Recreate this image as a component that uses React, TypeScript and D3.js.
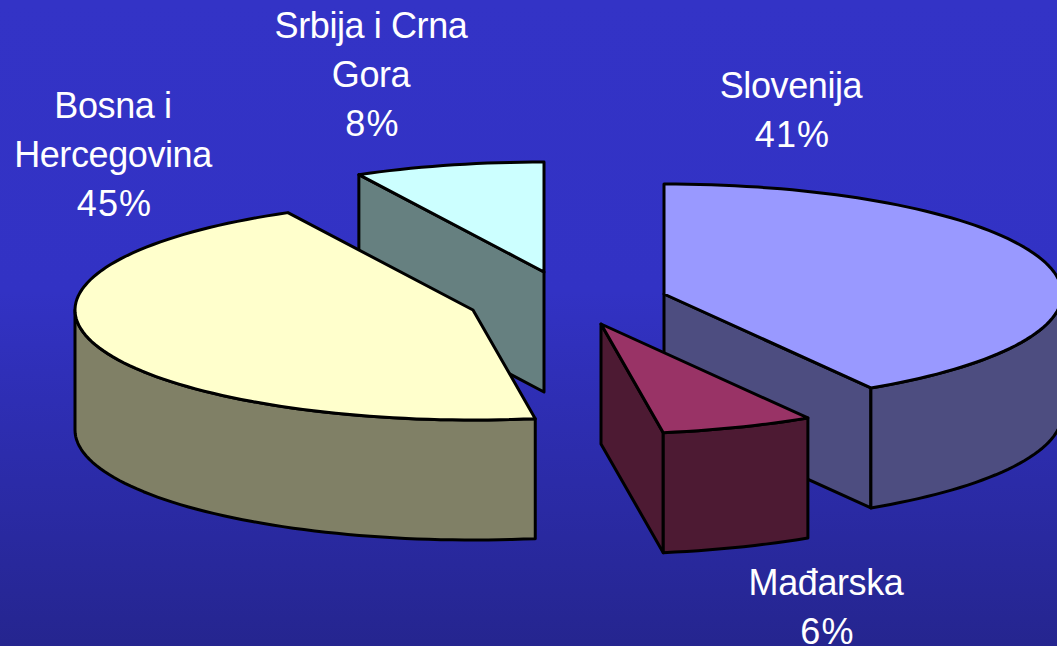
import React, { useLayoutEffect } from "react";
import * as d3 from "d3";

const categories = ["Slovenija", "Mađarska", "Bosna i Hercegovina", "Srbija i Crna Gora"];
const shares = [41.3, 6.2, 44.8, 7.7];
const percentLabels = ["41%", "6%", "45%", "8%"];
const labelLines = [["Slovenija", "41%"], ["Mađarska", "6%"], ["Bosna i", "Hercegovina", "45%"], ["Srbija i Crna", "Gora", "8%"]];
const topColors = ["#9999FF", "#993366", "#FFFFCC", "#CCFFFF"];
const sideColors = ["#4D4D80", "#4D1A33", "#808066", "#668080"];
const centers: [number, number][] = [[664, 294], [601, 324], [473, 310], [544, 272]];
const labelAnchors: [number, number][] = [[791, 97.5], [826, 595], [113, 117.5], [371, 37.5]];

const W = 1057, H = 646, RX = 398, RY = 110, DEPTH = 120;
const line = d3.line();
const pieAngles = d3.pie<number>().sort(null).value((d) => d)(shares);

function rim(cx: number, cy: number, a0: number, a1: number, dy = 0): [number, number][] {
  const n = Math.max(2, Math.ceil((a1 - a0) / 0.03));
  const t = d3.scaleLinear().domain([0, n]).range([a0, a1]);
  return d3.range(n + 1).map((i) => [cx + RX * Math.sin(t(i)), cy + dy - RY * Math.cos(t(i))] as [number, number]);
}

function Slice({ i }: { i: number }) {
  const [cx, cy] = centers[i];
  const { startAngle: a0, endAngle: a1 } = pieAngles[i];
  const top = rim(cx, cy, a0, a1);
  const stroke = { stroke: "#000", strokeWidth: 3, strokeLinejoin: "round" as const };
  const faces: [number, number][][] = [];
  const radialWall = (a: number) => {
    const p: [number, number] = [cx + RX * Math.sin(a), cy - RY * Math.cos(a)];
    return [[cx, cy], p, [p[0], p[1] + DEPTH], [cx, cy + DEPTH]] as [number, number][];
  };
  if (i === 0) faces.push(radialWall(a1));
  if (i === 1) faces.push(radialWall(a1));
  if (i === 3) faces.push(radialWall(a0));
  const frontA0 = Math.max(a0, Math.PI / 2);
  const frontA1 = Math.min(a1, (3 * Math.PI) / 2);
  if (frontA1 > frontA0) {
    const upper = rim(cx, cy, frontA0, frontA1);
    const lower = rim(cx, cy, frontA0, frontA1, DEPTH).reverse();
    faces.push([...upper, ...lower]);
  }
  return (
    <g>
      {faces.map((f, k) => (
        <path key={k} d={line(f) + "Z"} fill={sideColors[i]} {...stroke} />
      ))}
      <path d={line([[cx, cy], ...top]) + "Z"} fill={topColors[i]} {...stroke} />
    </g>
  );
}

export default function App() {
  useLayoutEffect(() => {
    document.body.style.margin = "0";
    document.body.style.overflow = "hidden";
  }, []);
  return (
    <svg width={W} height={H} style={{ display: "block" }} role="img" aria-label={categories.join(", ") + ": " + percentLabels.join(", ")}>
      <defs>
        <linearGradient id="bg" x1="0" y1="0" x2="0" y2="1">
          <stop offset="0" stopColor="#3333C6" />
          <stop offset="0.45" stopColor="#3232C4" />
          <stop offset="1" stopColor="#25258F" />
        </linearGradient>
      </defs>
      <rect width={W} height={H} fill="url(#bg)" />
      {[3, 2, 0, 1].map((i) => (
        <Slice key={i} i={i} />
      ))}
      {labelLines.map((lines, i) =>
        lines.map((t, k) => {
          const isPercent = t.endsWith("%");
          return (
            <text
              key={i + "-" + k}
              x={labelAnchors[i][0] + (isPercent ? 1.5 : 0)}
              y={labelAnchors[i][1] + k * 49.4}
              textAnchor="middle"
              fontFamily="'Liberation Sans', Arial, sans-serif"
              fontSize={36}
              letterSpacing={isPercent ? 1.2 : -0.4}
              fill="#fff"
            >
              {t}
            </text>
          );
        })
      )}
    </svg>
  );
}
